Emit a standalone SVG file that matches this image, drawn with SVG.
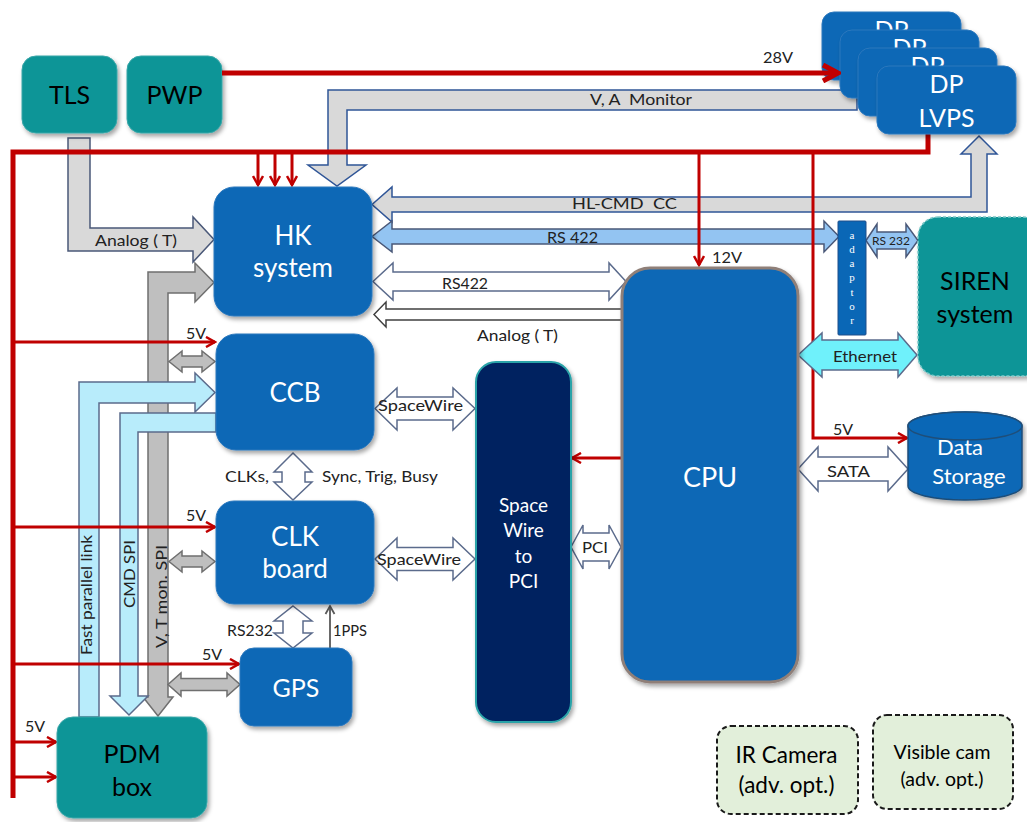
<svg xmlns="http://www.w3.org/2000/svg" width="1027" height="822" viewBox="0 0 1027 822">
<style>
text{font-family:Lato,"Liberation Sans",sans-serif;}
.nb{fill:#0a67b6;stroke:#2c78bd;stroke-width:1;}
.nt{fill:#0b9597;stroke:#3aa6a8;stroke-width:1;}
.tw{fill:#fff;font-size:25px;text-anchor:middle;}
.tk{fill:#000;font-size:25px;text-anchor:middle;}
.lb{fill:#222;font-size:16px;}
.lc{fill:#222;font-size:16px;text-anchor:middle;}
.red{fill:none;stroke:#c00000;stroke-linejoin:miter;}
.ga{fill:#d9d9d9;stroke:#2f5597;stroke-width:1.5;}
.gs{fill:#d9d9d9;stroke:#4a5878;stroke-width:1.5;}
.dg{fill:#bfbfbf;stroke:#6f6f6f;stroke-width:1.5;}
.lbl{fill:#93c4f2;stroke:#4a5878;stroke-width:1.5;}
.cy{fill:#b8ecfb;stroke:#5b6b8c;stroke-width:1.5;}
.wa{fill:#fff;stroke:#5b6b8c;stroke-width:1.5;}
.wk{fill:#fff;stroke:#404040;stroke-width:1.5;}
.et{fill:#6ff1fb;stroke:#5b6b8c;stroke-width:1.5;}
.cam{fill:#e2efda;stroke:#1a1a1a;stroke-width:2;stroke-dasharray:5 3;}
.ad{fill:#fff;font-size:11px;text-anchor:middle;font-family:"Liberation Serif",serif;}
</style>
<defs>
<filter id="sh" x="-10%" y="-10%" width="130%" height="130%">
<feDropShadow dx="2" dy="3" stdDeviation="2" flood-color="#000" flood-opacity="0.35"/>
</filter>
<marker id="ar" viewBox="0 0 12 12" refX="10" refY="6" markerWidth="12" markerHeight="12" markerUnits="userSpaceOnUse" orient="auto">
<path d="M1,1 L10,6 L1,11" fill="none" stroke="#c00000" stroke-width="2.5"/>
</marker>
<marker id="arB" viewBox="0 0 20 20" refX="17" refY="10" markerWidth="20" markerHeight="20" markerUnits="userSpaceOnUse" orient="auto">
<path d="M2,2 L17,10 L2,18" fill="none" stroke="#c00000" stroke-width="5"/>
</marker>
<marker id="ag" viewBox="0 0 12 12" refX="10" refY="6" markerWidth="12" markerHeight="12" markerUnits="userSpaceOnUse" orient="auto">
<path d="M2,1.5 L10,6 L2,10.5" fill="none" stroke="#595959" stroke-width="1.8"/>
</marker>
</defs>

<g id="connectors">
<path class="ga" d="M857,90 L328,90 L328,165 L308,165 L337,186 L366,165 L347,165 L347,110 L857,110 Z"/>
<path class="ga" d="M372,204.5 L392,187 L392,197 L971,197 L971,154 L961,154 L979,136 L997,154 L987,154 L987,212 L392,212 L392,222 Z"/>
<path class="lbl" d="M372,236.5 L392,221 L392,229 L824,229 L824,221 L839,236.5 L824,252 L824,244 L392,244 L392,252 Z"/>
<path class="wa" d="M373,281.5 L393,263 L393,272 L609,272 L609,263 L626,281.5 L609,300 L609,291 L393,291 L393,300 Z"/>
<path class="wk" d="M374,314.5 L386,302 L386,309 L622,309 L622,320 L386,320 L386,327 Z"/>
<path class="gs" d="M68,138 L90,138 L90,228 L193,228 L193,217 L214,239.5 L193,262 L193,251 L68,251 Z"/>
<path class="dg" d="M148,697 L148,272 L195,272 L195,263 L214,282.5 L195,302 L195,293 L168,293 L168,697 L173,697 L158,716 L143,697 Z"/>
<path class="cy" d="M79,717 L79,382 L195,382 L195,373 L215,392.5 L195,412 L195,403 L99,403 L99,717 Z"/>
<path class="cy" d="M120,696 L120,413 L216,413 L216,432 L138,432 L138,696 L148,696 L129,715 L110,696 Z"/>
<path class="dg" d="M169,361.5 L182,351 L182,356 L202,356 L202,351 L215,361.5 L202,372 L202,367 L182,367 L182,372 Z"/>
<path class="dg" d="M169,561.5 L182,551 L182,556 L202,556 L202,551 L215,561.5 L202,572 L202,567 L182,567 L182,572 Z"/>
<path class="dg" d="M168,684.5 L181,673 L181,678.5 L227,678.5 L227,673 L240,684.5 L227,696 L227,690.5 L181,690.5 L181,696 Z"/>
<path class="wa" d="M293,453 L312,472 L305,472 L305,482 L312,482 L293,500 L274,482 L282,482 L282,472 L274,472 Z"/>
<path class="wa" d="M293,606 L312,621 L303,621 L303,633 L312,633 L293,648 L274,633 L283,633 L283,621 L274,621 Z"/>
<path class="wa" d="M375,408.5 L397,388 L397,397 L453,397 L453,388 L475,408.5 L453,430 L453,420 L397,420 L397,430 Z"/>
<path class="wa" d="M375,559 L397,538 L397,547.5 L453,547.5 L453,538 L475,559 L453,580 L453,570.5 L397,570.5 L397,580 Z"/>
<path class="wa" d="M571,547 L583,525 L583,533 L609,533 L609,525 L621,547 L609,569 L609,561 L583,561 L583,569 Z"/>
<path class="lbl" d="M866,240.5 L877,224 L877,232 L906,232 L906,224 L918,240.5 L906,257 L906,249 L877,249 L877,257 Z"/>
<path class="wa" d="M798,469 L818,447 L818,457 L888,457 L888,447 L908,469 L888,491 L888,481 L818,481 L818,491 Z"/>
<line x1="330" y1="648" x2="330" y2="606" stroke="#595959" stroke-width="1.8" marker-end="url(#ag)"/>
<polyline class="red" stroke-width="5" points="13,798 13,152 928,152 928,134"/>
<line class="red" x1="258" y1="152" x2="258" y2="185" stroke-width="3" marker-end="url(#ar)"/>
<line class="red" x1="275" y1="152" x2="275" y2="185" stroke-width="3" marker-end="url(#ar)"/>
<line class="red" x1="292" y1="152" x2="292" y2="185" stroke-width="3" marker-end="url(#ar)"/>
<line class="red" x1="699" y1="152" x2="699" y2="265" stroke-width="3" marker-end="url(#ar)"/>
<polyline class="red" stroke-width="3" points="813,152 813,438 907,438" marker-end="url(#ar)"/>
<line class="red" x1="622" y1="458" x2="572" y2="458" stroke-width="3" marker-end="url(#ar)"/>
<line class="red" x1="13" y1="342" x2="215" y2="342" stroke-width="3" marker-end="url(#ar)"/>
<line class="red" x1="13" y1="527" x2="215" y2="527" stroke-width="3" marker-end="url(#ar)"/>
<line class="red" x1="13" y1="664" x2="239" y2="664" stroke-width="3" marker-end="url(#ar)"/>
<line class="red" x1="13" y1="742" x2="56" y2="742" stroke-width="3" marker-end="url(#ar)"/>
<line class="red" x1="13" y1="777" x2="56" y2="777" stroke-width="3" marker-end="url(#ar)"/>
<path class="et" d="M798,355 L822,333 L822,340 L898,340 L898,333 L917,355 L898,377 L898,370 L822,370 L822,377 Z"/>
<text class="lc" x="778" y="63" textLength="30" lengthAdjust="spacingAndGlyphs">28V</text>
<text class="lc" x="641" y="105" xml:space="preserve" textLength="102" lengthAdjust="spacingAndGlyphs">V, A  Monitor</text>
<text class="lc" x="624.5" y="209" xml:space="preserve" textLength="105" lengthAdjust="spacingAndGlyphs">HL-CMD  CC</text>
<text class="lc" x="572.5" y="243" textLength="51" lengthAdjust="spacingAndGlyphs">RS 422</text>
<text class="lc" x="465" y="289" textLength="46" lengthAdjust="spacingAndGlyphs">RS422</text>
<text class="lc" x="517.5" y="341" textLength="81" lengthAdjust="spacingAndGlyphs">Analog ( T)</text>
<text class="lc" x="136" y="246" textLength="82" lengthAdjust="spacingAndGlyphs">Analog ( T)</text>
<text class="lb" x="712" y="263" textLength="30" lengthAdjust="spacingAndGlyphs">12V</text>
<text class="lb" x="833" y="435">5V</text>
<text class="lb" x="186" y="339">5V</text>
<text class="lb" x="186" y="521">5V</text>
<text class="lb" x="202" y="660">5V</text>
<text class="lb" x="25" y="732">5V</text>
<text class="lc" x="865" y="362" textLength="64" lengthAdjust="spacingAndGlyphs">Ethernet</text>
<text class="lc" x="848.5" y="477" textLength="43" lengthAdjust="spacingAndGlyphs">SATA</text>
<text class="lc" x="891" y="245" style="font-size:12px" textLength="38" lengthAdjust="spacingAndGlyphs">RS 232</text>
<text class="lc" x="595" y="553" textLength="26" lengthAdjust="spacingAndGlyphs">PCI</text>
<text class="lc" x="420.5" y="411" textLength="85" lengthAdjust="spacingAndGlyphs">SpaceWire</text>
<text class="lc" x="419" y="565" textLength="84" lengthAdjust="spacingAndGlyphs">SpaceWire</text>
<text class="lb" x="269" y="482" text-anchor="end" textLength="44" lengthAdjust="spacingAndGlyphs">CLKs,</text>
<text class="lb" x="322" y="482" textLength="116" lengthAdjust="spacingAndGlyphs">Sync, Trig, Busy</text>
<text class="lb" x="227" y="636" textLength="46" lengthAdjust="spacingAndGlyphs">RS232</text>
<text class="lb" x="333" y="636" textLength="34" lengthAdjust="spacingAndGlyphs">1PPS</text>
<text class="lb" transform="translate(92,655) rotate(-90)" textLength="120" lengthAdjust="spacingAndGlyphs">Fast parallel link</text>
<text class="lb" transform="translate(135,608) rotate(-90)" textLength="68" lengthAdjust="spacingAndGlyphs">CMD SPI</text>
<text class="lb" transform="translate(167,648) rotate(-90)" textLength="103" lengthAdjust="spacingAndGlyphs">V, T mon. SPI</text>
</g>

<g id="TLS"><rect class="nt" x="22" y="56" width="95" height="77" rx="14" filter="url(#sh)"/><text class="tk" x="69.5" y="104">TLS</text></g>
<g id="PWP"><rect class="nt" x="127" y="56" width="95" height="77" rx="14" filter="url(#sh)"/><text class="tk" x="174.5" y="104">PWP</text></g>
<g id="DP1"><rect class="nb" x="822" y="12" width="139" height="68" rx="12" filter="url(#sh)"/><text class="tw" x="891.5" y="39">DP</text></g>
<g id="DP2"><rect class="nb" x="840" y="30" width="139" height="68" rx="12" filter="url(#sh)"/><text class="tw" x="909.5" y="57">DP</text></g>
<g id="DP3"><rect class="nb" x="858" y="48" width="139" height="68" rx="12" filter="url(#sh)"/><text class="tw" x="927.5" y="75">DP</text></g>
<g id="DPLVPS"><rect class="nb" x="877" y="66" width="139" height="68" rx="12" filter="url(#sh)"/><text class="tw" x="946.5" y="93">DP</text><text class="tw" x="946.5" y="127">LVPS</text></g>
<g id="HK"><rect class="nb" x="214" y="187" width="158" height="129" rx="20" filter="url(#sh)"/><text class="tw" x="293" y="245" style="font-size:26px">HK</text><text class="tw" x="293" y="277" style="font-size:26px">system</text></g>
<g id="CCB"><rect class="nb" x="216" y="334" width="158" height="116" rx="20" filter="url(#sh)"/><text class="tw" x="295" y="402" style="font-size:26px">CCB</text></g>
<g id="CLK"><rect class="nb" x="216" y="501" width="158" height="103" rx="18" filter="url(#sh)"/><text class="tw" x="295" y="546" style="font-size:26px">CLK</text><text class="tw" x="295" y="578" style="font-size:26px">board</text></g>
<g id="GPS"><rect class="nb" x="240" y="648" width="112" height="78" rx="14" filter="url(#sh)"/><text class="tw" x="296" y="697">GPS</text></g>
<g id="PDM"><rect class="nt" x="57" y="717" width="150" height="101" rx="16" filter="url(#sh)"/><text class="tk" x="132" y="763">PDM</text><text class="tk" x="132" y="796">box</text></g>
<g id="SW2PCI"><rect x="476" y="362" width="95" height="360" rx="20" fill="#002060" stroke="#2aa3a8" stroke-width="2" filter="url(#sh)"/>
<text class="tw" x="523.5" y="512" style="font-size:19px">Space</text><text class="tw" x="523.5" y="537" style="font-size:19px">Wire</text><text class="tw" x="523.5" y="563" style="font-size:19px">to</text><text class="tw" x="523.5" y="588" style="font-size:19px">PCI</text></g>
<g id="CPU"><rect x="622" y="268" width="176" height="414" rx="28" fill="#0a67b6" stroke="#8f7f78" stroke-width="3" filter="url(#sh)"/><text class="tw" x="710" y="487" style="font-size:27px">CPU</text></g>
<g id="adaptor"><rect x="838" y="221" width="28" height="114" rx="1" fill="#0a67b6" stroke="#1f4e8a" stroke-width="1"/>
<text class="ad" x="852" y="239">a</text><text class="ad" x="852" y="253">d</text><text class="ad" x="852" y="267">a</text><text class="ad" x="852" y="281">p</text><text class="ad" x="852" y="296">t</text><text class="ad" x="852" y="310">o</text><text class="ad" x="852" y="324">r</text></g>
<g id="SIREN"><rect x="918" y="217" width="125" height="159" rx="20" fill="#0b9597" stroke="#7cc8c8" stroke-width="1.5" stroke-dasharray="3 2" filter="url(#sh)"/><text class="tk" x="975" y="290">SIREN</text><text class="tk" x="975" y="323">system</text></g>
<g id="DataStorage"><path d="M908,426 L908,486 A57,14 0 0 0 1022,486 L1022,426 A57,14 0 0 0 908,426 Z" fill="#0a67b6" stroke="#1f4e79" stroke-width="1.5" filter="url(#sh)"/>
<ellipse cx="965" cy="426" rx="57" ry="14" fill="#0a67b6" stroke="#1f4e79" stroke-width="1.5"/>
<text class="tw" x="960" y="455" style="font-size:22px">Data</text><text class="tw" x="969" y="484" style="font-size:22px">Storage</text></g>
<g id="IRCamera"><rect class="cam" x="717" y="726" width="141" height="88" rx="14"/><text class="tk" x="786.5" y="763" style="font-size:22.5px">IR Camera</text><text class="tk" x="786.5" y="793" style="font-size:22.5px">(adv. opt.)</text></g>
<g id="VisibleCam"><rect class="cam" x="873" y="715" width="140" height="94" rx="14"/><text class="tk" x="942" y="759" style="font-size:19.5px">Visible cam</text><text class="tk" x="942" y="786" style="font-size:19.5px">(adv. opt.)</text></g>

<g id="power-28V">
<line class="red" x1="222" y1="73" x2="838" y2="73" stroke-width="5" marker-end="url(#arB)"/>
</g>
</svg>
